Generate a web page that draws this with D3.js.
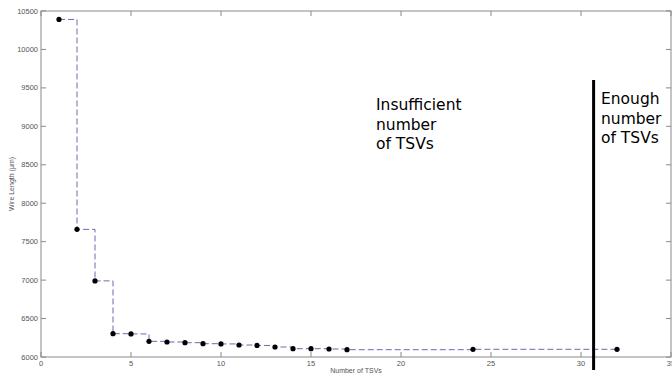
<!DOCTYPE html>
<html>
<head>
<meta charset="utf-8">
<script src="https://cdn.jsdelivr.net/npm/d3@7"></script>
<style>
  html, body { margin: 0; padding: 0; background: #fff; }
  svg { display: block; }
</style>
</head>
<body>
<svg id="chart" width="672" height="376"></svg>
<script>
// Wire length versus the number of TSVs
const tsvCounts = [1, 2, 3, 4, 5, 6, 7, 8, 9, 10, 11, 12, 13, 14, 15, 16, 17, 24, 32];
const wireLengths = [10390, 7660, 6990, 6303, 6300, 6204, 6195, 6186, 6173, 6170, 6156, 6150, 6130, 6108, 6108, 6104, 6095, 6100, 6100];
const xTicks = [0, 5, 10, 15, 20, 25, 30, 35];
const yTicks = [6000, 6500, 7000, 7500, 8000, 8500, 9000, 9500, 10000, 10500];
const thresholdTSV = 30.7;
const leftNote = ["Insufficient", "number", "of TSVs"];
const rightNote = ["Enough", "number", "of TSVs"];

const svg = d3.select("#chart");
const plotLeft = 41, plotRight = 671, plotTop = 11, plotBottom = 357;

const x = d3.scaleLinear().domain([0, 35]).range([plotLeft, plotRight]);
const y = d3.scaleLinear().domain([6000, 10500]).range([plotBottom, plotTop]);

const axisColor = "#8a8a8a";
const labelColor = "#555";
const font = "Liberation Sans, Arial, sans-serif";

// frame
svg.append("rect")
  .attr("x", plotLeft).attr("y", plotTop)
  .attr("width", plotRight - plotLeft).attr("height", plotBottom - plotTop)
  .attr("fill", "none").attr("stroke", axisColor).attr("stroke-width", 1);

// ticks on all four sides, pointing inward
const tickLen = 5;
const g = svg.append("g").attr("stroke", axisColor).attr("stroke-width", 1);
xTicks.forEach(t => {
  g.append("line").attr("x1", x(t)).attr("x2", x(t)).attr("y1", plotBottom).attr("y2", plotBottom - tickLen);
  g.append("line").attr("x1", x(t)).attr("x2", x(t)).attr("y1", plotTop).attr("y2", plotTop + tickLen);
});
yTicks.forEach(t => {
  g.append("line").attr("x1", plotLeft).attr("x2", plotLeft + tickLen).attr("y1", y(t)).attr("y2", y(t));
  g.append("line").attr("x1", plotRight).attr("x2", plotRight - tickLen).attr("y1", y(t)).attr("y2", y(t));
});

// tick labels
svg.append("g").selectAll("text").data(xTicks).join("text")
  .attr("x", d => x(d)).attr("y", plotBottom + 9)
  .attr("text-anchor", "middle")
  .attr("font-family", font).attr("font-size", 7.5).attr("fill", labelColor)
  .text(d => d);
svg.append("g").selectAll("text").data(yTicks).join("text")
  .attr("x", plotLeft - 3).attr("y", d => y(d) + 2.5)
  .attr("text-anchor", "end")
  .attr("font-family", font).attr("font-size", 7.5).attr("fill", labelColor)
  .text(d => d);

// axis titles
svg.append("text")
  .attr("x", (plotLeft + plotRight) / 2).attr("y", 373)
  .attr("text-anchor", "middle")
  .attr("font-family", font).attr("font-size", 7).attr("fill", labelColor)
  .text("Number of TSVs");
svg.append("text")
  .attr("transform", `translate(14,${(plotTop + plotBottom) / 2}) rotate(-90)`)
  .attr("text-anchor", "middle")
  .attr("font-family", font).attr("font-size", 7).attr("fill", labelColor)
  .text("Wire Length (\u03bcm)");

// stepped dashed series
const data = tsvCounts.map((c, i) => ({ c, v: wireLengths[i] }));
const line = d3.line().x(d => x(d.c)).y(d => y(d.v)).curve(d3.curveStepAfter);
svg.append("path")
  .datum(data)
  .attr("d", line)
  .attr("fill", "none")
  .attr("stroke", "#6a6aae")
  .attr("stroke-width", 1)
  .attr("stroke-dasharray", "6,3");

svg.append("g").selectAll("circle").data(data).join("circle")
  .attr("cx", d => x(d.c)).attr("cy", d => y(d.v))
  .attr("r", 2.6).attr("fill", "#000");

// threshold marker
svg.append("line")
  .attr("x1", x(thresholdTSV)).attr("x2", x(thresholdTSV))
  .attr("y1", 80).attr("y2", 370)
  .attr("stroke", "#000").attr("stroke-width", 3);

// region notes
function note(lines, x0, y0) {
  svg.append("g").selectAll("text").data(lines).join("text")
    .attr("x", x0).attr("y", (d, i) => y0 + i * 19.5)
    .attr("font-family", "DejaVu Sans, sans-serif")
    .attr("font-size", 15.5).attr("fill", "#000")
    .text(d => d);
}
note(leftNote, 376, 110);
note(rightNote, 601, 104);
</script>
</body>
</html>
